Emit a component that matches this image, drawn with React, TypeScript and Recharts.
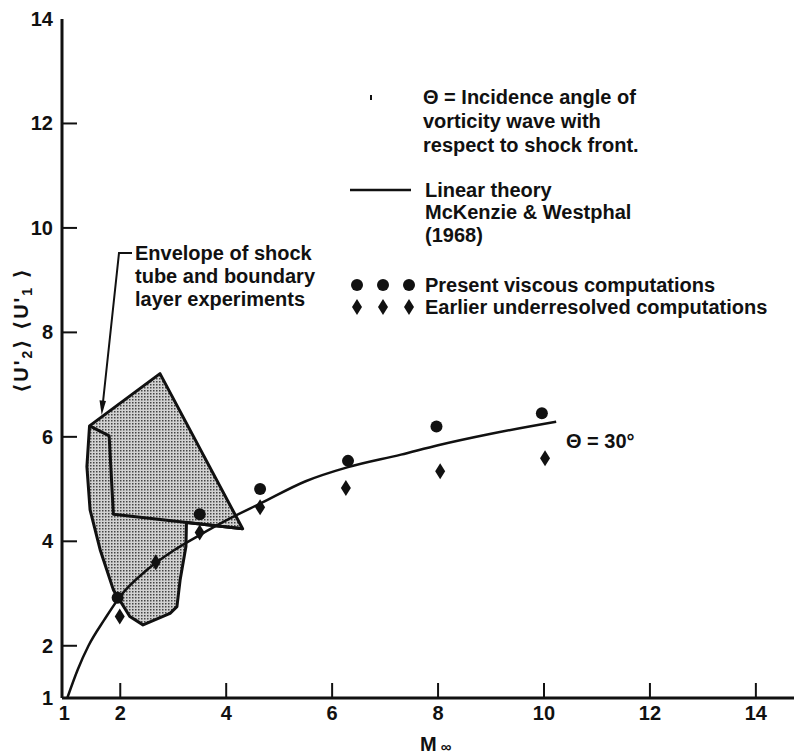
import React from 'react';
import { ComposedChart, XAxis, YAxis, Scatter, Customized } from 'recharts';

// ---------- data ----------
const xTicks = [1, 2, 4, 6, 8, 10, 12, 14];
const yTicks = [1, 2, 4, 6, 8, 10, 12, 14];
const frameXTicks = [2, 4, 6, 8, 10, 12, 14];
const frameYTicks = [2, 4, 6, 8, 10, 12];

const presentViscous = [
  { x: 1.95, y: 2.92 },
  { x: 3.5, y: 4.52 },
  { x: 4.64, y: 5.0 },
  { x: 6.3, y: 5.54 },
  { x: 7.97, y: 6.2 },
  { x: 9.96, y: 6.45 },
];

const earlierUnderresolved = [
  { x: 1.99, y: 2.56 },
  { x: 2.67, y: 3.6 },
  { x: 3.5, y: 4.17 },
  { x: 4.64, y: 4.65 },
  { x: 6.26, y: 5.02 },
  { x: 8.04, y: 5.34 },
  { x: 10.02, y: 5.59 },
];

const linearTheory = [
  { x: 1, y: 1 },
  { x: 1.2, y: 1.55 },
  { x: 1.4, y: 2.0 },
  { x: 1.7, y: 2.5 },
  { x: 2, y: 2.95 },
  { x: 2.5, y: 3.45 },
  { x: 3, y: 3.82 },
  { x: 3.5, y: 4.12 },
  { x: 4, y: 4.4 },
  { x: 4.64, y: 4.72 },
  { x: 5.5, y: 5.15 },
  { x: 6.3, y: 5.42 },
  { x: 7.3, y: 5.66 },
  { x: 8, y: 5.84 },
  { x: 9, y: 6.06 },
  { x: 10.23, y: 6.29 },
];

const envelopeOutline = [
  { x: 1.42, y: 6.21 },
  { x: 2.75, y: 7.21 },
  { x: 4.31, y: 4.24 },
  { x: 3.25, y: 4.36 },
  { x: 3.24, y: 3.9 },
  { x: 3.13, y: 3.26 },
  { x: 3.07, y: 2.75 },
  { x: 2.94, y: 2.62 },
  { x: 2.43, y: 2.4 },
  { x: 2.18, y: 2.56 },
  { x: 1.87, y: 3.07 },
  { x: 1.62, y: 3.84 },
  { x: 1.43, y: 4.6 },
  { x: 1.37, y: 5.43 },
];

const envelopeFold = [
  { x: 1.42, y: 6.21 },
  { x: 1.79, y: 6.02 },
  { x: 1.87, y: 4.52 },
  { x: 4.31, y: 4.24 },
];

// ---------- styling ----------
const INK = '#111';
const FONT = '"Liberation Sans", Arial, Helvetica, "DejaVu Sans", sans-serif';
const textStyle: React.CSSProperties = {
  fontFamily: FONT,
  fontWeight: 'bold',
  fontSize: 20,
  fill: INK,
};

const toPath = (pts: { x: number; y: number }[], close: boolean) =>
  pts.map((p, i) => `${i === 0 ? 'M' : 'L'}${p.x},${p.y}`).join(' ') + (close ? ' Z' : '');

const BottomTick = (props: any) => {
  const { x, y, payload } = props;
  return (
    <g>
      {payload.value !== 1 && (
        <line x1={x} x2={x} y1={y} y2={y - 15} stroke={INK} strokeWidth={2} />
      )}
      <text x={payload.value === 1 ? x - 3 : x} y={y + 22} textAnchor="middle" style={textStyle}>
        {payload.value}
      </text>
    </g>
  );
};

const LeftTick = (props: any) => {
  const { x, y, payload } = props;
  return (
    <g>
      {payload.value !== 1 && payload.value !== 14 && (
        <line x1={x} x2={x + 15} y1={y} y2={y} stroke={INK} strokeWidth={2} />
      )}
      <text x={x - 9} y={y + 7} textAnchor="end" style={textStyle}>
        {payload.value}
      </text>
    </g>
  );
};

const DotShape = (p: any) => <circle cx={p.cx} cy={p.cy} r={6} fill={INK} />;
const DiamondShape = (p: any) => (
  <path
    d={`M${p.cx},${p.cy - 8} L${p.cx + 5},${p.cy} L${p.cx},${p.cy + 8} L${p.cx - 5},${p.cy} Z`}
    fill={INK}
  />
);
const NoShape = () => <g />;

const EnvelopeFill = (lp: any) => (
  <g>
    <defs>
      <pattern id="stipple" width="3" height="3" patternUnits="userSpaceOnUse">
        <rect width="3" height="3" fill="#d2d2d2" />
        <rect x="0" y="0" width="1.5" height="1.5" fill="#444" />
      </pattern>
    </defs>
    <path
      d={toPath(lp.points, true)}
      fill="url(#stipple)"
      stroke={INK}
      strokeWidth={3}
      strokeLinejoin="round"
    />
  </g>
);

const EnvelopeFold = (lp: any) => (
  <path d={toPath(lp.points, false)} fill="none" stroke={INK} strokeWidth={3} strokeLinejoin="round" />
);

const Annotations = () => (
  <g>
    {/* y-axis title */}
    <text
      x={28}
      y={330}
      transform="rotate(-90, 28, 330)"
      textAnchor="middle"
      style={{ ...textStyle, letterSpacing: 2 }}
    >
      {'⟨U\''}
      <tspan dy={4} fontSize={14}>2</tspan>
      <tspan dy={-4}>{'⟩  ⟨U\''}</tspan>
      <tspan dy={4} fontSize={14}>1</tspan>
      <tspan dy={-4}>{' ⟩'}</tspan>
    </text>
    {/* x-axis title */}
    <text x={420} y={751} style={textStyle}>
      M
      <tspan dx={4} dy={1} fontSize={15}>∞</tspan>
    </text>

    {/* key texts */}
    <rect x={370} y={95} width={2} height={5} fill={INK} />
    <text x={423} y={104} style={textStyle}>Θ = Incidence angle of</text>
    <text x={423} y={128} style={textStyle}>vorticity wave with</text>
    <text x={423} y={152} style={textStyle}>respect to shock front.</text>

    <line x1={350} x2={411} y1={190} y2={190} stroke={INK} strokeWidth={2.5} />
    <text x={425} y={197} style={textStyle}>Linear theory</text>
    <text x={425} y={219} style={textStyle}>McKenzie &amp; Westphal</text>
    <text x={425} y={242} style={textStyle}>(1968)</text>

    {[357, 383, 409].map((cx) => (
      <circle key={'c' + cx} cx={cx} cy={285} r={6} fill={INK} />
    ))}
    <text x={425} y={292} style={textStyle}>Present viscous computations</text>
    {[357, 383, 409].map((cx) => (
      <path
        key={'d' + cx}
        d={`M${cx},${299} L${cx + 5},${307} L${cx},${315} L${cx - 5},${307} Z`}
        fill={INK}
      />
    ))}
    <text x={425} y={314} style={textStyle}>Earlier underresolved computations</text>

    {/* envelope label with leader */}
    <text x={135} y={260} style={textStyle}>Envelope of shock</text>
    <text x={135} y={283} style={textStyle}>tube and boundary</text>
    <text x={135} y={306} style={textStyle}>layer experiments</text>
    <path d="M132,253 L119,253 L103,402" fill="none" stroke={INK} strokeWidth={2} />
    <polygon points="101.7,415 106,401 99.5,400.3" fill={INK} />

    {/* curve label */}
    <text x={566} y={448} style={textStyle}>Θ = 30°</text>
  </g>
);

export default function App() {
  return (
    <div
      style={{
        position: 'absolute',
        left: 0,
        top: 0,
        width: 794,
        height: 754,
        overflow: 'hidden',
        background: '#fff',
      }}
    >
      <ComposedChart width={794} height={754} margin={{ top: 19, right: 0, bottom: 0, left: 0 }}>
        <XAxis
          xAxisId="b"
          type="number"
          dataKey="x"
          orientation="bottom"
          domain={[0.9, 14.72]}
          allowDataOverflow
          ticks={xTicks}
          interval={0}
          height={56}
          tickSize={0}
          tickMargin={0}
          tickLine={false}
          tick={(p: any) => <BottomTick {...p} />}
          axisLine={{ stroke: INK, strokeWidth: 3 }}
        />
        <XAxis
          xAxisId="t"
          type="number"
          orientation="top"
          domain={[0.9, 14.72]}
          allowDataOverflow
          ticks={frameXTicks}
          interval={0}
          height={0}
          tickSize={-15}
          tick={false}
          tickLine={{ stroke: INK, strokeWidth: 2 }}
          axisLine={{ stroke: INK, strokeWidth: 3 }}
        />
        <YAxis
          yAxisId="l"
          type="number"
          dataKey="y"
          orientation="left"
          domain={[1, 14]}
          allowDataOverflow
          ticks={yTicks}
          interval={0}
          width={62}
          tickSize={0}
          tickMargin={0}
          tickLine={false}
          tick={(p: any) => <LeftTick {...p} />}
          axisLine={{ stroke: INK, strokeWidth: 3 }}
        />
        <YAxis
          yAxisId="r"
          type="number"
          orientation="right"
          domain={[1, 14]}
          allowDataOverflow
          ticks={frameYTicks}
          interval={0}
          width={0}
          tickSize={-15}
          tick={false}
          tickLine={{ stroke: INK, strokeWidth: 2 }}
          axisLine={{ stroke: INK, strokeWidth: 3 }}
        />

        <Scatter
          name="envelope"
          data={envelopeOutline}
          xAxisId="b"
          yAxisId="l"
          shape={NoShape}
          line={EnvelopeFill}
          lineType="joint"
          isAnimationActive={false}
        />
        <Scatter
          name="envelopeFold"
          data={envelopeFold}
          xAxisId="b"
          yAxisId="l"
          shape={NoShape}
          line={EnvelopeFold}
          lineType="joint"
          isAnimationActive={false}
        />
        <Scatter
          name="Linear theory"
          data={linearTheory}
          xAxisId="b"
          yAxisId="l"
          shape={NoShape}
          line={{ stroke: INK, strokeWidth: 2.5, fill: 'none' }}
          lineType="joint"
          lineJointType="monotone"
          isAnimationActive={false}
        />
        <Scatter
          name="Present viscous computations"
          data={presentViscous}
          xAxisId="b"
          yAxisId="l"
          shape={DotShape}
          isAnimationActive={false}
        />
        <Scatter
          name="Earlier underresolved computations"
          data={earlierUnderresolved}
          xAxisId="b"
          yAxisId="l"
          shape={DiamondShape}
          isAnimationActive={false}
        />
        <Customized component={Annotations} />
      </ComposedChart>
    </div>
  );
}
